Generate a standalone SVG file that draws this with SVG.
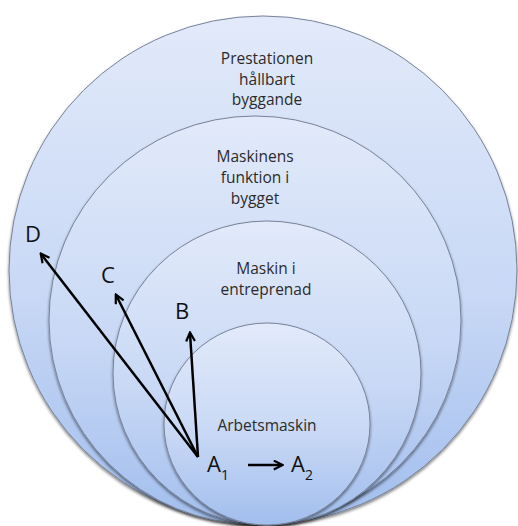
<svg xmlns="http://www.w3.org/2000/svg" width="518" height="526" viewBox="0 0 518 526">
  <style>
    .ring { fill: url(#g); stroke: #77839a; stroke-width: 1; filter: url(#sh); }
    .t { font-family: "Open Sans", "Liberation Sans", sans-serif; font-size: 15.5px; fill: #2b2b2b; text-anchor: middle; }
    .lbl { font-family: "Open Sans", "Liberation Sans", sans-serif; font-size: 22px; fill: #111; }
    .sub { font-size: 14px; }
    .arr { stroke: #000; stroke-width: 2.5; fill: none; marker-end: url(#ah); }
  </style>
  <defs>
    <linearGradient id="g" x1="0" y1="0" x2="0" y2="1">
      <stop offset="0" stop-color="#e2eafa"/>
      <stop offset="0.55" stop-color="#c8d8f5"/>
      <stop offset="1" stop-color="#a2beee"/>
    </linearGradient>
    <filter id="sh" x="-10%" y="-10%" width="120%" height="120%">
      <feGaussianBlur in="SourceAlpha" stdDeviation="1.5"/>
      <feOffset dy="1.5" result="b"/>
      <feComponentTransfer><feFuncA type="linear" slope="0.5"/></feComponentTransfer>
      <feMerge><feMergeNode/><feMergeNode in="SourceGraphic"/></feMerge>
    </filter>
    <marker id="ah" viewBox="0 0 10 10" refX="8.5" refY="5" markerWidth="4.4" markerHeight="4.4" orient="auto" markerUnits="strokeWidth">
      <path d="M1,1 L9,5 L1,9" fill="none" stroke="#000" stroke-width="2"/>
    </marker>
  </defs>

  <g id="prestationen">
    <ellipse class="ring" cx="263" cy="270" rx="254" ry="254"/>
    <text class="t" x="267" y="64">Prestationen</text>
    <text class="t" x="267" y="85">hållbart</text>
    <text class="t" x="267" y="105">byggande</text>
  </g>
  <g id="maskinens-funktion">
    <ellipse class="ring" cx="255" cy="320" rx="206" ry="204"/>
    <text class="t" x="255" y="162">Maskinens</text>
    <text class="t" x="255" y="183">funktion i</text>
    <text class="t" x="255" y="204">bygget</text>
  </g>
  <g id="maskin-entreprenad">
    <ellipse class="ring" cx="267" cy="373" rx="154" ry="152"/>
    <text class="t" x="266" y="274">Maskin i</text>
    <text class="t" x="266" y="295">entreprenad</text>
  </g>
  <g id="arbetsmaskin">
    <ellipse class="ring" cx="267" cy="424" rx="103" ry="101"/>
    <text class="t" x="267" y="431">Arbetsmaskin</text>
  </g>

  <g id="labels">
    <text class="lbl" x="25" y="242">D</text>
    <text class="lbl" x="101" y="283">C</text>
    <text class="lbl" x="175" y="319">B</text>
    <text class="lbl" x="207" y="472">A<tspan class="sub" dy="8">1</tspan></text>
    <text class="lbl" x="291" y="472">A<tspan class="sub" dy="8">2</tspan></text>
  </g>

  <g id="connectors">
    <line class="arr" x1="198" y1="457" x2="41" y2="254"/>
    <line class="arr" x1="198" y1="457" x2="116" y2="295"/>
    <line class="arr" x1="198" y1="457" x2="190" y2="333"/>
    <line class="arr" x1="248" y1="465" x2="282" y2="465"/>
  </g>
</svg>
